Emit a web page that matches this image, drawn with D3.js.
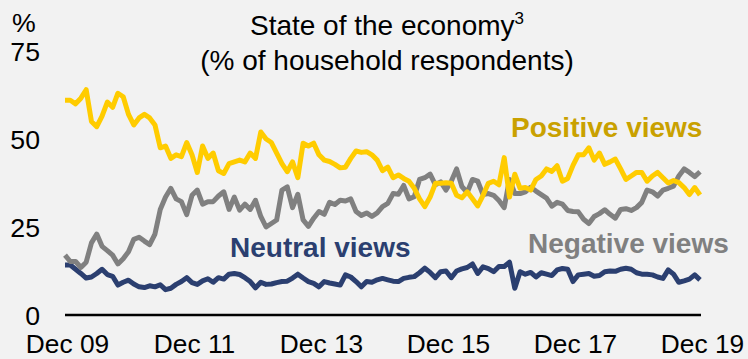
<!DOCTYPE html>
<html>
<head>
<meta charset="utf-8">
<script src="https://cdn.jsdelivr.net/npm/d3@7"></script>
<style>
html,body{margin:0;padding:0;background:#f2f2f2;}
svg{display:block;font-family:"Liberation Sans",Arial,sans-serif;}
</style>
</head>
<body>
<svg id="chart" width="748" height="359"></svg>
<script>
// Monthly observations, Dec 2009 (index 0) to Dec 2019 (index 120)
const positiveViews = [
61,61,60,61.6,64,55,53.5,56.5,60.5,59,63,62,57,54,56,57,56,54,47.5,48,
44.5,45.5,45,49,45.5,40.5,48,44.5,46,41,40.2,43,43.5,44,43.5,46,44.5,52,50,49,
46,43,40.7,43.5,39,48.8,48,48.8,45.5,44,43.6,42.8,41.8,42,44.5,46.6,46.2,46.4,45.5,44,
41,42,39,39.8,38.8,38,36,33,30.8,33.5,37.4,37.4,37.6,37.4,34,33.3,35,33,31,34,
37.4,38,37,44.7,33.5,40,36,36.2,35.5,38.5,39.5,41.5,40.8,42.4,38,38.8,42.5,45.5,45.5,47.5,
44,46,42.8,43.5,44.3,41.5,38.5,39.5,40.5,40.5,38,39.5,40.5,39,37.5,38.2,37.6,36.2,34.2,36.2,
34.1];
const negativeViews = [
17,15.2,15.2,13.5,15,20.5,23,19.5,18.3,17,14.5,16,18,21.5,22.1,21,20,23,30,33.5,
36,33,32.2,28.5,34,35.5,31.5,32.2,32.2,33.8,35,30,33.5,29.8,31.5,30,32.6,28,25,26,
27,35.5,36.4,30.5,34.3,27,25.2,27.5,29.4,28.6,32,31.4,32.6,32.4,33,29.4,28.3,29,28,29,
30.8,31.7,34.5,34.3,36.8,33,33.6,38.5,39,40,37,37.8,35.5,38,41.5,36.5,34.8,38.5,38,34.2,
34.5,34,32.5,30.5,38.5,34.5,34.5,35,36.3,35.2,34.2,33.2,30.9,32,31.5,29.7,29.4,29.3,27.2,26,
28,28.8,29.9,28.6,27.5,30,30.2,29.7,30.5,32,35.5,35,33.8,35.5,36,36.6,39.5,41.5,40.5,39.3,
40.7];
const neutralViews = [
14.2,14.2,13,11.8,10.5,10.8,11.8,13,11.5,11,8.5,9.3,9.9,8.8,8,7.8,8.3,8,8.6,7.2,
7.6,8.7,9.5,10.6,9.2,8.7,9.7,10.3,9.3,10.6,10.2,11.6,11.8,11.5,10.6,9.5,7.7,9.3,8.7,8.8,
9.2,9.5,9.6,10.5,11.6,10.5,9.5,9,8,9.5,9.1,8.8,8.5,11.4,10.8,9.5,8,9.5,9.3,10,
10.4,10,9.6,9.5,10.4,10.7,10.9,12,13.3,12.1,10.6,12.3,12.5,10.6,12.5,13.1,13.5,14.5,11.8,13.7,
13.2,12.3,13.8,13.8,15,7.6,12.3,11.6,12.1,10.8,12,11.6,11.2,12.8,13.2,13,9.5,11.4,11.6,11.8,
11,11.2,12.3,12.5,12.4,13,13.3,13,12,11.6,11.6,11.4,10.8,10.4,12.8,11.6,9.3,9.7,10.2,11.4,
10];
const xTickIndex = [0,24,48,72,96,120];
const xTickLabels = ["Dec 09","Dec 11","Dec 13","Dec 15","Dec 17","Dec 19"];
const yTicks = [0,25,50,75];
const seriesNames = ["Positive views","Negative views","Neutral views"];

const svg = d3.select("#chart");
const x = d3.scaleLinear().domain([0,120]).range([65,700]);
const y = d3.scaleLinear().domain([0,75]).range([315,51]);

// Title
const title = svg.append("text").attr("x",387).attr("y",35).attr("text-anchor","middle")
  .attr("font-size",28).attr("fill","#000");
title.append("tspan").text("State of the economy");
title.append("tspan").attr("font-size",17).attr("dy",-11).text("3");
svg.append("text").attr("x",387).attr("y",70).attr("text-anchor","middle")
  .attr("font-size",28).attr("fill","#000").text("(% of household respondents)");

// Y axis labels
svg.append("text").attr("x",12).attr("y",32).attr("font-size",26.7).text("%");
const yAxis = d3.axisLeft(y).tickValues(yTicks).tickSize(0).tickPadding(0);
const yg = svg.append("g").attr("transform","translate(40,0)").call(yAxis);
yg.select(".domain").remove();
yg.selectAll("text").attr("font-size",26.7).attr("fill","#000")
  .attr("font-family","'Liberation Sans',Arial,sans-serif").attr("dy","0.36em");

// X axis
const xAxis = d3.axisBottom(x).tickValues(xTickIndex).tickSize(0).tickPadding(0)
  .tickFormat((d,i)=>xTickLabels[i]);
const xg = svg.append("g").attr("transform","translate(0,315)").call(xAxis);
xg.select(".domain").attr("stroke","#000").attr("stroke-width",2.5)
  .attr("d","M65,0H701");
xg.selectAll("text").attr("font-size",26.3).attr("fill","#000")
  .attr("font-family","'Liberation Sans',Arial,sans-serif").attr("dy",0).attr("y",38)
  .attr("dx",2);

// Lines
const line = d3.line().x((d,i)=>x(i)).y(d=>y(d)).curve(d3.curveLinear);
const series = [
  {name:seriesNames[2], data:neutralViews, color:"#2b3f70"},
  {name:seriesNames[1], data:negativeViews, color:"#808080"},
  {name:seriesNames[0], data:positiveViews, color:"#ffcc00"}
];
svg.selectAll("path.series").data(series).enter().append("path")
  .attr("class","series").attr("d",d=>line(d.data)).attr("fill","none")
  .attr("stroke",d=>d.color).attr("stroke-width",5).attr("stroke-linejoin","round");

// Series labels
const labels = [
  {t:seriesNames[0], x:511, y:137, c:"#c9a100"},
  {t:seriesNames[1], x:528, y:253, c:"#808080"},
  {t:seriesNames[2], x:230, y:257, c:"#2b3f70"}
];
svg.selectAll("text.lbl").data(labels).enter().append("text").attr("class","lbl")
  .attr("x",d=>d.x).attr("y",d=>d.y).attr("font-size",28).attr("font-weight","bold")
  .attr("fill",d=>d.c).text(d=>d.t);
</script>
</body>
</html>
